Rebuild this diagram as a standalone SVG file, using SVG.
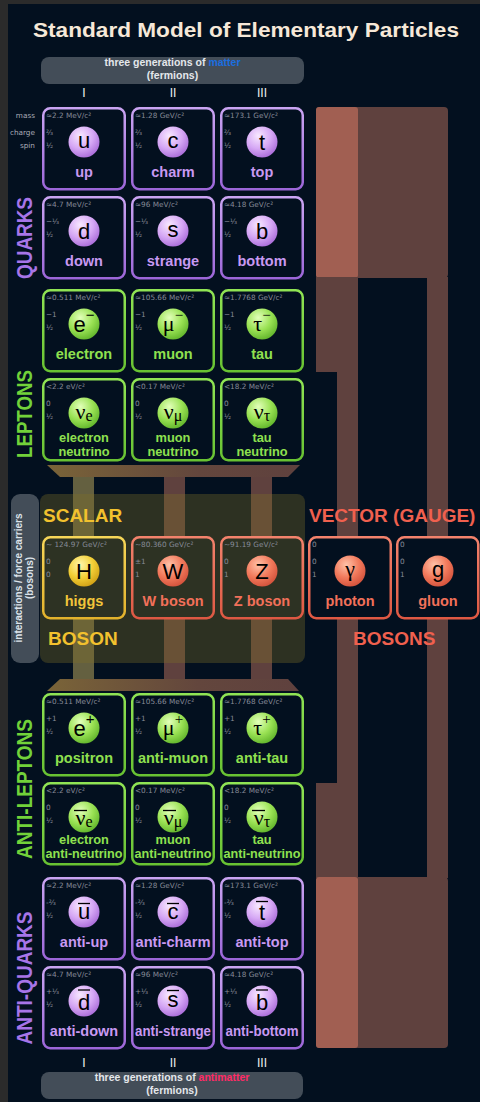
<svg xmlns="http://www.w3.org/2000/svg" width="480" height="1102" viewBox="0 0 480 1102">
<defs>
<radialGradient id="gq" cx="0.38" cy="0.3" r="0.75"><stop offset="0" stop-color="#f8e8ff"/><stop offset="0.55" stop-color="#d6a8f5"/><stop offset="1" stop-color="#a86ad8"/></radialGradient>
<radialGradient id="gl" cx="0.38" cy="0.3" r="0.75"><stop offset="0" stop-color="#e2ffba"/><stop offset="0.55" stop-color="#9ae254"/><stop offset="1" stop-color="#5fb32a"/></radialGradient>
<radialGradient id="gh" cx="0.38" cy="0.3" r="0.75"><stop offset="0" stop-color="#fff6ac"/><stop offset="0.55" stop-color="#f3cf36"/><stop offset="1" stop-color="#cf9f14"/></radialGradient>
<radialGradient id="gg" cx="0.38" cy="0.3" r="0.75"><stop offset="0" stop-color="#ffc2a8"/><stop offset="0.55" stop-color="#f27a5c"/><stop offset="1" stop-color="#d2503a"/></radialGradient>
<linearGradient id="sq" x1="0" y1="0" x2="0" y2="1"><stop offset="0" stop-color="#caa4f2"/><stop offset="1" stop-color="#9c66d8"/></linearGradient>
<linearGradient id="sl" x1="0" y1="0" x2="0" y2="1"><stop offset="0" stop-color="#90e454"/><stop offset="1" stop-color="#68c232"/></linearGradient>
<linearGradient id="sh" x1="0" y1="0" x2="0" y2="1"><stop offset="0" stop-color="#f7d658"/><stop offset="1" stop-color="#e3b22c"/></linearGradient>
<linearGradient id="sg" x1="0" y1="0" x2="0" y2="1"><stop offset="0" stop-color="#f3826c"/><stop offset="1" stop-color="#de5843"/></linearGradient>
<linearGradient id="tp" x1="0" y1="0" x2="1" y2="0"><stop offset="0" stop-color="#7a6438"/><stop offset="0.6" stop-color="#63463d"/><stop offset="1" stop-color="#5f413e"/></linearGradient>
</defs>
<style>
text{font-family:"Liberation Sans",Arial,sans-serif}
.m{font-family:"DejaVu Sans",sans-serif;font-size:7.3px;fill:#878b98}
.k{font-family:"DejaVu Sans",sans-serif;font-size:7.3px;fill:#a9abb6;text-anchor:end}
.sy{font-size:22px;fill:#000;text-anchor:middle}
.sr{font-family:"Liberation Serif","Times New Roman",serif}
.lb{font-size:14.5px;font-weight:700;text-anchor:middle}
.l2{font-size:12.8px;font-weight:700;text-anchor:middle}
.cq{fill:none;stroke:url(#sq);stroke-width:2.5}
.cl{fill:none;stroke:url(#sl);stroke-width:2.5}
.ch{fill:#2d3223;stroke:url(#sh);stroke-width:2.5}
.cg{fill:#2d3223;stroke:url(#sg);stroke-width:2.5}
.cv{fill:#03101f;stroke:url(#sg);stroke-width:2.5}
.oq{fill:url(#gq)}.ol{fill:url(#gl)}.oh{fill:url(#gh)}.og{fill:url(#gg)}
.tq{fill:#c899f2}.tl{fill:#8fe04f}.th{fill:#f2c53a}.tg{fill:#f2705a}
.ov{stroke:#000;stroke-width:1.3}
.br{fill:#5f413e}.sa{fill:#a15f52}
.side{font-size:22px;font-weight:700;text-anchor:middle}
.big{font-size:19px;font-weight:700}
.pill{fill:#434d58}
.hd{font-size:10.5px;font-weight:700;fill:#e4e7eb;text-anchor:middle}
.rn{font-size:12px;fill:#eef0f2;text-anchor:middle}
</style>
<rect width="480" height="1102" fill="#2b2b2b"/>
<rect x="8" y="4" width="472" height="1098" fill="#03101f"/>
<text x="33" y="37" font-size="20" font-weight="700" fill="#f6e8d8" textLength="426" lengthAdjust="spacingAndGlyphs">Standard Model of Elementary Particles</text>

<g id="header-matter">
<rect class="pill" x="41" y="57" width="263" height="27" rx="8"/>
<text class="hd" x="172.5" y="66">three generations of <tspan fill="#1a6ee0">matter</tspan></text>
<text class="hd" x="172.5" y="78.5">(fermions)</text>
<text class="rn" x="84" y="97">I</text><text class="rn" x="173" y="97">II</text><text class="rn" x="262" y="97">III</text>
</g>
<g id="legend"><text class="k" x="35" y="118.3">mass</text><text class="k" x="35" y="135">charge</text><text class="k" x="35" y="148.3">spin</text></g>

<g id="connectors">
<rect class="br" x="316" y="107" width="132" height="171" rx="4"/>
<rect class="sa" x="316" y="107" width="42" height="171" rx="3"/>
<rect class="br" x="316" y="277" width="42" height="95"/>
<rect class="br" x="337" y="371" width="21" height="413"/>
<rect class="br" x="316" y="783" width="42" height="95"/>
<rect class="br" x="427" y="277" width="21" height="601"/>
<rect class="br" x="316" y="877" width="132" height="171" rx="4"/>
<rect class="sa" x="316" y="877" width="42" height="171" rx="3"/>
<polygon points="47,465 300,465 288,477 60,477" fill="url(#tp)"/>
<polygon points="60,679 288,679 299,691 47,691" fill="url(#tp)"/>
<rect x="73" y="477" width="21" height="202" fill="#646040"/>
<rect class="br" x="164" y="477" width="21" height="202"/>
<rect class="br" x="251" y="477" width="21" height="202"/>
</g>

<g id="boson-panel">
<rect x="40" y="494" width="265" height="169" rx="8" fill="#7d7129" fill-opacity="0.35"/>
<rect class="pill" x="11" y="494" width="28" height="169" rx="9"/>
<text transform="translate(21.5,578) rotate(-90)" font-size="10" font-weight="700" fill="#dde3ea" text-anchor="middle">interactions / force carriers</text>
<text transform="translate(33,578) rotate(-90)" font-size="10" font-weight="700" fill="#dde3ea" text-anchor="middle">(bosons)</text>
<text class="big" x="43" y="522" fill="#f2c12e">SCALAR</text>
<text class="big" x="48" y="645" fill="#f2c12e">BOSON</text>
<text class="big" x="309" y="522" fill="#f0604e">VECTOR (GAUGE)</text>
<text class="big" x="353" y="645" fill="#f0604e">BOSONS</text>
</g>

<g id="group-labels">
<text class="side" transform="translate(32,238) rotate(-90)" fill="#a775e8" textLength="82" lengthAdjust="spacingAndGlyphs">QUARKS</text>
<text class="side" transform="translate(32,414) rotate(-90)" fill="#72d23a" textLength="88" lengthAdjust="spacingAndGlyphs">LEPTONS</text>
<text class="side" transform="translate(32,789) rotate(-90)" fill="#72d23a" textLength="140" lengthAdjust="spacingAndGlyphs">ANTI-LEPTONS</text>
<text class="side" transform="translate(32,978) rotate(-90)" fill="#a775e8" textLength="133" lengthAdjust="spacingAndGlyphs">ANTI-QUARKS</text>
</g>

<!-- quarks -->
<g id="up" transform="translate(42,107)"><rect class="cq" x="1.25" y="1.25" width="81.5" height="81" rx="7"/><text class="m" x="4" y="11.3">≈2.2 MeV/c²</text><text class="m" x="4" y="28">⅔</text><text class="m" x="4" y="41.3">½</text><circle class="oq" cx="42" cy="35" r="15.5"/><text class="sy" x="42" y="41">u</text><text class="lb tq" x="42" y="70">up</text></g>
<g id="charm" transform="translate(131,107)"><rect class="cq" x="1.25" y="1.25" width="81.5" height="81" rx="7"/><text class="m" x="4" y="11.3">≈1.28 GeV/c²</text><text class="m" x="4" y="28">⅔</text><text class="m" x="4" y="41.3">½</text><circle class="oq" cx="42" cy="35" r="15.5"/><text class="sy" x="42" y="41">c</text><text class="lb tq" x="42" y="70">charm</text></g>
<g id="top" transform="translate(220,107)"><rect class="cq" x="1.25" y="1.25" width="81.5" height="81" rx="7"/><text class="m" x="4" y="11.3">≈173.1 GeV/c²</text><text class="m" x="4" y="28">⅔</text><text class="m" x="4" y="41.3">½</text><circle class="oq" cx="42" cy="35" r="15.5"/><text class="sy" x="42" y="43">t</text><text class="lb tq" x="42" y="70">top</text></g>
<g id="down" transform="translate(42,196)"><rect class="cq" x="1.25" y="1.25" width="81.5" height="81" rx="7"/><text class="m" x="4" y="11.3">≈4.7 MeV/c²</text><text class="m" x="4" y="28">−⅓</text><text class="m" x="4" y="41.3">½</text><circle class="oq" cx="42" cy="35" r="15.5"/><text class="sy" x="42" y="43">d</text><text class="lb tq" x="42" y="70">down</text></g>
<g id="strange" transform="translate(131,196)"><rect class="cq" x="1.25" y="1.25" width="81.5" height="81" rx="7"/><text class="m" x="4" y="11.3">≈96 MeV/c²</text><text class="m" x="4" y="28">−⅓</text><text class="m" x="4" y="41.3">½</text><circle class="oq" cx="42" cy="35" r="15.5"/><text class="sy" x="42" y="41">s</text><text class="lb tq" x="42" y="70">strange</text></g>
<g id="bottom" transform="translate(220,196)"><rect class="cq" x="1.25" y="1.25" width="81.5" height="81" rx="7"/><text class="m" x="4" y="11.3">≈4.18 GeV/c²</text><text class="m" x="4" y="28">−⅓</text><text class="m" x="4" y="41.3">½</text><circle class="oq" cx="42" cy="35" r="15.5"/><text class="sy" x="42" y="43">b</text><text class="lb tq" x="42" y="70">bottom</text></g>

<!-- leptons -->
<g id="electron" transform="translate(42,289)"><rect class="cl" x="1.25" y="1.25" width="81.5" height="81" rx="7"/><text class="m" x="4" y="11.3">≈0.511 MeV/c²</text><text class="m" x="4" y="28">−1</text><text class="m" x="4" y="41.3">½</text><circle class="ol" cx="42" cy="35" r="15.5"/><text class="sy" x="42" y="42.5" font-size="25">e<tspan font-size="15" dy="-12">−</tspan></text><text class="lb tl" x="42" y="70">electron</text></g>
<g id="muon" transform="translate(131,289)"><rect class="cl" x="1.25" y="1.25" width="81.5" height="81" rx="7"/><text class="m" x="4" y="11.3">≈105.66 MeV/c²</text><text class="m" x="4" y="28">−1</text><text class="m" x="4" y="41.3">½</text><circle class="ol" cx="42" cy="35" r="15.5"/><text class="sy sr" x="42" y="41.5" font-size="27">μ<tspan font-size="15" dy="-11">−</tspan></text><text class="lb tl" x="42" y="70">muon</text></g>
<g id="tau" transform="translate(220,289)"><rect class="cl" x="1.25" y="1.25" width="81.5" height="81" rx="7"/><text class="m" x="4" y="11.3">≈1.7768 GeV/c²</text><text class="m" x="4" y="28">−1</text><text class="m" x="4" y="41.3">½</text><circle class="ol" cx="42" cy="35" r="15.5"/><text class="sy sr" x="42" y="42" font-size="27">τ<tspan font-size="15" dy="-11">−</tspan></text><text class="lb tl" x="42" y="70">tau</text></g>
<g id="electron-neutrino" transform="translate(42,378)"><rect class="cl" x="1.25" y="1.25" width="81.5" height="81" rx="7"/><text class="m" x="4" y="11.3">&lt;2.2 eV/c²</text><text class="m" x="4" y="28">0</text><text class="m" x="4" y="41.3">½</text><circle class="ol" cx="42" cy="35" r="15.5"/><text class="sy sr" x="42" y="40.5" font-size="30">ν<tspan font-size="16" dy="2">e</tspan></text><text class="l2 tl" x="42" y="63.5">electron</text><text class="l2 tl" x="42" y="77.5">neutrino</text></g>
<g id="muon-neutrino" transform="translate(131,378)"><rect class="cl" x="1.25" y="1.25" width="81.5" height="81" rx="7"/><text class="m" x="4" y="11.3">&lt;0.17 MeV/c²</text><text class="m" x="4" y="28">0</text><text class="m" x="4" y="41.3">½</text><circle class="ol" cx="42" cy="35" r="15.5"/><text class="sy sr" x="42" y="40.5" font-size="30">ν<tspan font-size="16" dy="2">μ</tspan></text><text class="l2 tl" x="42" y="63.5">muon</text><text class="l2 tl" x="42" y="77.5">neutrino</text></g>
<g id="tau-neutrino" transform="translate(220,378)"><rect class="cl" x="1.25" y="1.25" width="81.5" height="81" rx="7"/><text class="m" x="4" y="11.3">&lt;18.2 MeV/c²</text><text class="m" x="4" y="28">0</text><text class="m" x="4" y="41.3">½</text><circle class="ol" cx="42" cy="35" r="15.5"/><text class="sy sr" x="42" y="40.5" font-size="30">ν<tspan font-size="16" dy="2">τ</tspan></text><text class="l2 tl" x="42" y="63.5">tau</text><text class="l2 tl" x="42" y="77.5">neutrino</text></g>

<!-- bosons -->
<g id="higgs" transform="translate(42,536)"><rect class="ch" x="1.25" y="1.25" width="81.5" height="81" rx="7"/><text class="m" x="4" y="11.3">~ 124.97 GeV/c²</text><text class="m" x="4" y="28">0</text><text class="m" x="4" y="41.3">0</text><circle class="oh" cx="42" cy="35" r="15.5"/><text class="sy" x="42" y="43" font-size="23">H</text><text class="lb th" x="42" y="70">higgs</text></g>
<g id="w-boson" transform="translate(131,536)"><rect class="cg" x="1.25" y="1.25" width="81.5" height="81" rx="7"/><text class="m" x="4" y="11.3">~80.360 GeV/c²</text><text class="m" x="4" y="28">±1</text><text class="m" x="4" y="41.3">1</text><circle class="og" cx="42" cy="35" r="15.5"/><text class="sy" x="42" y="43" font-size="23">W</text><text class="lb tg" x="42" y="70">W boson</text></g>
<g id="z-boson" transform="translate(220,536)"><rect class="cg" x="1.25" y="1.25" width="81.5" height="81" rx="7"/><text class="m" x="4" y="11.3">~91.19 GeV/c²</text><text class="m" x="4" y="28">0</text><text class="m" x="4" y="41.3">1</text><circle class="og" cx="42" cy="35" r="15.5"/><text class="sy" x="42" y="43" font-size="23">Z</text><text class="lb tg" x="42" y="70">Z boson</text></g>
<g id="photon" transform="translate(308,536)"><rect class="cv" x="1.25" y="1.25" width="81.5" height="81" rx="7"/><text class="m" x="4" y="11.3">0</text><text class="m" x="4" y="28">0</text><text class="m" x="4" y="41.3">1</text><circle class="og" cx="42" cy="35" r="15.5"/><text class="sy sr" x="42" y="40" font-size="22">γ</text><text class="lb tg" x="42" y="70">photon</text></g>
<g id="gluon" transform="translate(396,536)"><rect class="cv" x="1.25" y="1.25" width="81" height="81" rx="7"/><text class="m" x="4" y="11.3">0</text><text class="m" x="4" y="28">0</text><text class="m" x="4" y="41.3">1</text><circle class="og" cx="42" cy="35" r="15.5"/><text class="sy" x="42" y="40.5">g</text><text class="lb tg" x="42" y="70">gluon</text></g>

<!-- anti-leptons -->
<g id="positron" transform="translate(42,693)"><rect class="cl" x="1.25" y="1.25" width="81.5" height="81" rx="7"/><text class="m" x="4" y="11.3">≈0.511 MeV/c²</text><text class="m" x="4" y="28">+1</text><text class="m" x="4" y="41.3">½</text><circle class="ol" cx="42" cy="35" r="15.5"/><text class="sy" x="42" y="42.5" font-size="25">e<tspan font-size="15" dy="-12">+</tspan></text><text class="lb tl" x="42" y="70">positron</text></g>
<g id="anti-muon" transform="translate(131,693)"><rect class="cl" x="1.25" y="1.25" width="81.5" height="81" rx="7"/><text class="m" x="4" y="11.3">≈105.66 MeV/c²</text><text class="m" x="4" y="28">+1</text><text class="m" x="4" y="41.3">½</text><circle class="ol" cx="42" cy="35" r="15.5"/><text class="sy sr" x="42" y="41.5" font-size="27">μ<tspan font-size="15" dy="-11">+</tspan></text><text class="lb tl" x="42" y="70">anti-muon</text></g>
<g id="anti-tau" transform="translate(220,693)"><rect class="cl" x="1.25" y="1.25" width="81.5" height="81" rx="7"/><text class="m" x="4" y="11.3">≈1.7768 GeV/c²</text><text class="m" x="4" y="28">+1</text><text class="m" x="4" y="41.3">½</text><circle class="ol" cx="42" cy="35" r="15.5"/><text class="sy sr" x="42" y="42" font-size="27">τ<tspan font-size="15" dy="-11">+</tspan></text><text class="lb tl" x="42" y="70">anti-tau</text></g>
<g id="electron-antineutrino" transform="translate(42,782)"><rect class="cl" x="1.25" y="1.25" width="81.5" height="81" rx="7"/><text class="m" x="4" y="11.3">&lt;2.2 eV/c²</text><text class="m" x="4" y="28">0</text><text class="m" x="4" y="41.3">½</text><circle class="ol" cx="42" cy="35" r="15.5"/><text class="sy sr" x="42" y="43" font-size="30">ν<tspan font-size="16" dy="2">e</tspan></text><line class="ov" x1="32" y1="28.5" x2="45" y2="28.5"/><text class="l2 tl" x="42" y="62">electron</text><text class="l2 tl" x="42" y="76" textLength="77" lengthAdjust="spacingAndGlyphs">anti-neutrino</text></g>
<g id="muon-antineutrino" transform="translate(131,782)"><rect class="cl" x="1.25" y="1.25" width="81.5" height="81" rx="7"/><text class="m" x="4" y="11.3">&lt;0.17 MeV/c²</text><text class="m" x="4" y="28">0</text><text class="m" x="4" y="41.3">½</text><circle class="ol" cx="42" cy="35" r="15.5"/><text class="sy sr" x="42" y="43" font-size="30">ν<tspan font-size="16" dy="2">μ</tspan></text><line class="ov" x1="32" y1="28.5" x2="45" y2="28.5"/><text class="l2 tl" x="42" y="62">muon</text><text class="l2 tl" x="42" y="76" textLength="77" lengthAdjust="spacingAndGlyphs">anti-neutrino</text></g>
<g id="tau-antineutrino" transform="translate(220,782)"><rect class="cl" x="1.25" y="1.25" width="81.5" height="81" rx="7"/><text class="m" x="4" y="11.3">&lt;18.2 MeV/c²</text><text class="m" x="4" y="28">0</text><text class="m" x="4" y="41.3">½</text><circle class="ol" cx="42" cy="35" r="15.5"/><text class="sy sr" x="42" y="43" font-size="30">ν<tspan font-size="16" dy="2">τ</tspan></text><line class="ov" x1="32" y1="28.5" x2="45" y2="28.5"/><text class="l2 tl" x="42" y="62">tau</text><text class="l2 tl" x="42" y="76" textLength="77" lengthAdjust="spacingAndGlyphs">anti-neutrino</text></g>

<!-- anti-quarks -->
<g id="anti-up" transform="translate(42,877)"><rect class="cq" x="1.25" y="1.25" width="81.5" height="81" rx="7"/><text class="m" x="4" y="11.3">≈2.2 MeV/c²</text><text class="m" x="4" y="28">-⅔</text><text class="m" x="4" y="41.3">½</text><circle class="oq" cx="42" cy="35" r="15.5"/><text class="sy" x="42" y="42">u</text><line class="ov" x1="36" y1="26.5" x2="48" y2="26.5"/><text class="lb tq" x="42" y="70">anti-up</text></g>
<g id="anti-charm" transform="translate(131,877)"><rect class="cq" x="1.25" y="1.25" width="81.5" height="81" rx="7"/><text class="m" x="4" y="11.3">≈1.28 GeV/c²</text><text class="m" x="4" y="28">-⅔</text><text class="m" x="4" y="41.3">½</text><circle class="oq" cx="42" cy="35" r="15.5"/><text class="sy" x="42" y="42">c</text><line class="ov" x1="36" y1="26.5" x2="48" y2="26.5"/><text class="lb tq" x="42" y="70" textLength="75" lengthAdjust="spacingAndGlyphs">anti-charm</text></g>
<g id="anti-top" transform="translate(220,877)"><rect class="cq" x="1.25" y="1.25" width="81.5" height="81" rx="7"/><text class="m" x="4" y="11.3">≈173.1 GeV/c²</text><text class="m" x="4" y="28">-⅔</text><text class="m" x="4" y="41.3">½</text><circle class="oq" cx="42" cy="35" r="15.5"/><text class="sy" x="42" y="43">t</text><line class="ov" x1="36" y1="24.5" x2="48" y2="24.5"/><text class="lb tq" x="42" y="70">anti-top</text></g>
<g id="anti-down" transform="translate(42,966)"><rect class="cq" x="1.25" y="1.25" width="81.5" height="81" rx="7"/><text class="m" x="4" y="11.3">≈4.7 MeV/c²</text><text class="m" x="4" y="28">+⅓</text><text class="m" x="4" y="41.3">½</text><circle class="oq" cx="42" cy="35" r="15.5"/><text class="sy" x="42" y="43.5">d</text><line class="ov" x1="36" y1="24" x2="48" y2="24"/><text class="lb tq" x="42" y="70">anti-down</text></g>
<g id="anti-strange" transform="translate(131,966)"><rect class="cq" x="1.25" y="1.25" width="81.5" height="81" rx="7"/><text class="m" x="4" y="11.3">≈96 MeV/c²</text><text class="m" x="4" y="28">+⅓</text><text class="m" x="4" y="41.3">½</text><circle class="oq" cx="42" cy="35" r="15.5"/><text class="sy" x="42" y="41">s</text><line class="ov" x1="36" y1="24.5" x2="48" y2="24.5"/><text class="lb tq" x="42" y="70" textLength="76" lengthAdjust="spacingAndGlyphs">anti-strange</text></g>
<g id="anti-bottom" transform="translate(220,966)"><rect class="cq" x="1.25" y="1.25" width="81.5" height="81" rx="7"/><text class="m" x="4" y="11.3">≈4.18 GeV/c²</text><text class="m" x="4" y="28">+⅓</text><text class="m" x="4" y="41.3">½</text><circle class="oq" cx="42" cy="35" r="15.5"/><text class="sy" x="42" y="43.5">b</text><line class="ov" x1="36" y1="24" x2="48" y2="24"/><text class="lb tq" x="42" y="70" textLength="73" lengthAdjust="spacingAndGlyphs">anti-bottom</text></g>

<g id="footer-antimatter">
<text class="rn" x="84" y="1067">I</text><text class="rn" x="173" y="1067">II</text><text class="rn" x="262" y="1067">III</text>
<rect class="pill" x="41" y="1072" width="262" height="27" rx="8"/>
<text class="hd" x="172" y="1081">three generations of <tspan fill="#ff2a66">antimatter</tspan></text>
<text class="hd" x="172" y="1093.5">(fermions)</text>
</g>
</svg>
